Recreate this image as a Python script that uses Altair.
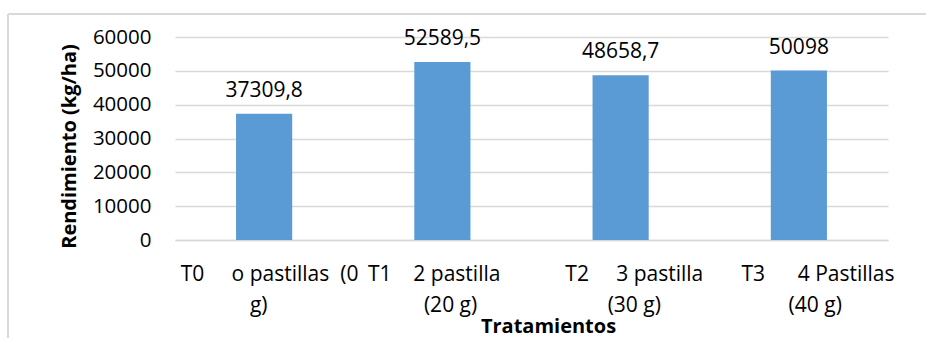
import altair as alt
import pandas as pd

NB = "\u00a0"
Z = "\u200b"

# Data
codes = ["T0", "T1", "T2", "T3"]
line1 = [
    Z + NB * 2 + "T0" + NB * 5 + "o" + NB + "pastillas" + NB * 2 + "(0" + Z,
    Z + "T1" + NB * 4 + "2" + NB + "pastilla" + NB * 3 + Z,
    Z + NB * 5 + "T2" + NB * 5 + "3" + NB + "pastilla" + Z,
    Z + NB * 7 + "T3" + NB * 6 + "4" + NB + "Pastillas" + Z,
]
line2 = [
    Z + "g)" + NB * 2 + Z,
    Z + NB * 3 + "(20" + NB + "g)" + Z,
    Z + NB * 5 + "(30" + NB + "g)" + Z,
    Z + NB * 6 + "(40" + NB + "g)" + Z,
]
values = [37309.8, 52589.5, 48658.7, 50098]
y_ticks = [0, 10000, 20000, 30000, 40000, 50000, 60000]

labels = [a + "|" + b for a, b in zip(line1, line2)]
df = pd.DataFrame({"cat": labels, "code": codes, "value": values})

W, H = 713, 203
FONT = "Open Sans"
GRID = "#d9d9d9"

x_enc = alt.X(
    "cat:N",
    sort=labels,
    scale=alt.Scale(paddingInner=0.685, paddingOuter=0.3425),
    axis=alt.Axis(
        title="Tratamientos",
        labelExpr="split(datum.label, '|')",
        labelAngle=0,
        labelFont=FONT,
        labelFontSize=21,
        labelColor="#000000",
        labelLineHeight=31,
        labelBaseline="top",
        labelPadding=23,
        labelLimit=500,
        labelOverlap=False,
        ticks=False,
        domain=True,
        domainColor=GRID,
        domainWidth=1.5,
        titleFont=FONT,
        titleFontSize=20,
        titleFontWeight="bold",
        titleColor="#000000",
        titleBaseline="middle",
        titleY=86,
        titleX=373,
    ),
)

y_enc = alt.Y(
    "value:Q",
    scale=alt.Scale(domain=[0, 60000], nice=False),
    axis=alt.Axis(
        title="Rendimiento (kg/ha)",
        values=y_ticks,
        tickCount=7,
        format="d",
        labelFont=FONT,
        labelFontSize=20.5,
        labelColor="#000000",
        labelPadding=24,
        labelOverlap=False,
        labelFlush=False,
        ticks=False,
        domain=False,
        grid=True,
        gridColor=GRID,
        gridWidth=1.5,
        titleFont=FONT,
        titleFontSize=20,
        titleFontWeight="bold",
        titleColor="#000000",
        titleAngle=-90,
        titleBaseline="middle",
        titleX=-106,
        titleY=109,
    ),
)

bars = alt.Chart(df).mark_bar(color="#5b9bd5").encode(x=x_enc, y=y_enc)

text = (
    alt.Chart(df)
    .transform_calculate(lbl="replace(toString(datum.value), '.', ',')")
    .mark_text(font=FONT, fontSize=21, color="#000000", baseline="alphabetic", dy=-17)
    .encode(x=x_enc, y=y_enc, text="lbl:N")
)

frame_top = alt.Chart(df).mark_rule(color=GRID, strokeWidth=1.5).encode(
    x=alt.value(-167), x2=alt.value(751), y=alt.value(-23)
)
frame_left = alt.Chart(df).mark_rule(color=GRID, strokeWidth=1.5).encode(
    x=alt.value(-167), y=alt.value(-23), y2=alt.value(301)
)

chart = (
    alt.layer(frame_top, frame_left, bars, text)
    .properties(
        width=W,
        height=H,
        autosize=alt.AutoSizeParams(type="none"),
        padding={"left": 175, "top": 37, "right": 38, "bottom": 98},
        background="#ffffff",
    )
    .configure_view(stroke=None)
)

chart.save("out.html", embed_options={"renderer": "svg", "actions": False})
